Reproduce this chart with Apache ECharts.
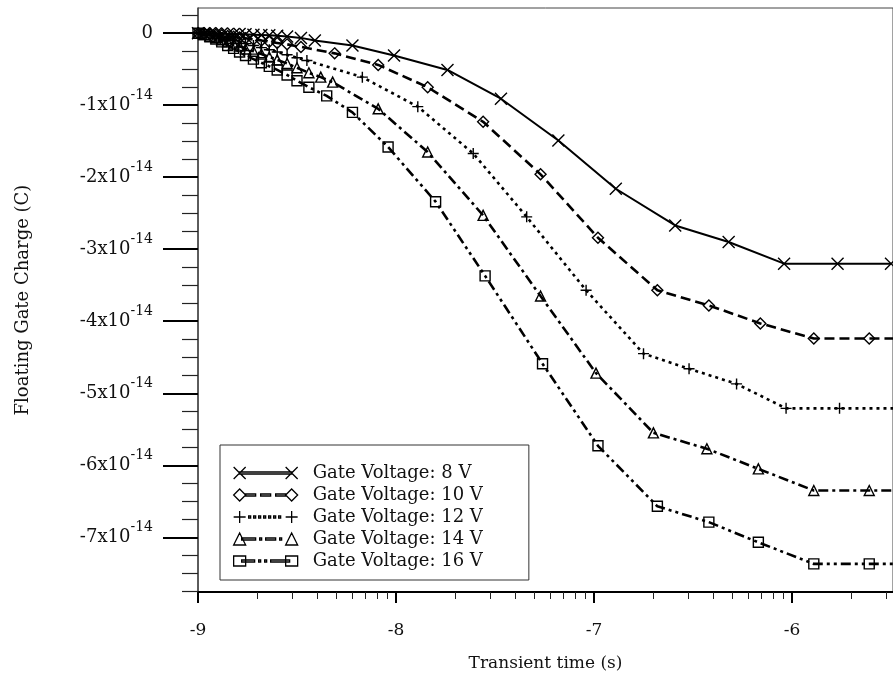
<!DOCTYPE html>
<html>
<head>
<meta charset="utf-8">
<script src="https://cdn.jsdelivr.net/npm/echarts@6/dist/echarts.min.js"></script>
<style>
  html, body { margin: 0; padding: 0; background: #fff; }
  #chart { width: 893px; height: 678px; }
</style>
</head>
<body>
<div id="chart"></div>
<script>
// x = log10(time in s), y = charge in units of 1e-14 C
var names = ['Gate Voltage: 8 V', 'Gate Voltage: 10 V', 'Gate Voltage: 12 V', 'Gate Voltage: 14 V', 'Gate Voltage: 16 V'];

var x8 = [-9, -8.97, -8.94, -8.91, -8.88, -8.85, -8.82, -8.79, -8.76, -8.72, -8.68, -8.64, -8.60, -8.55, -8.48, -8.41, -8.22, -8.01, -7.74, -7.47, -7.18, -6.89, -6.59, -6.32, -6.04, -5.77, -5.50];
var y8 = [0, 0, 0, -0.005, -0.005, -0.01, -0.01, -0.01, -0.015, -0.02, -0.025, -0.03, -0.035, -0.045, -0.065, -0.10, -0.17, -0.31, -0.51, -0.91, -1.49, -2.16, -2.67, -2.90, -3.20, -3.20, -3.20];

var x10 = [-9, -8.97, -8.94, -8.91, -8.88, -8.85, -8.82, -8.79, -8.76, -8.72, -8.68, -8.64, -8.60, -8.55, -8.48, -8.31, -8.09, -7.84, -7.56, -7.27, -6.98, -6.68, -6.42, -6.16, -5.89, -5.61, -5.33];
var y10 = [0, -0.005, -0.015, -0.02, -0.03, -0.04, -0.05, -0.06, -0.07, -0.085, -0.10, -0.12, -0.135, -0.155, -0.19, -0.28, -0.44, -0.75, -1.23, -1.96, -2.84, -3.57, -3.78, -4.03, -4.24, -4.24, -4.24];

var x12 = [-9, -8.97, -8.94, -8.91, -8.88, -8.85, -8.82, -8.79, -8.76, -8.72, -8.68, -8.64, -8.60, -8.55, -8.50, -8.45, -8.17, -7.89, -7.61, -7.34, -7.04, -6.75, -6.52, -6.28, -6.03, -5.76, -5.33];
var y12 = [0, -0.015, -0.03, -0.04, -0.06, -0.08, -0.10, -0.12, -0.145, -0.17, -0.20, -0.23, -0.26, -0.30, -0.34, -0.38, -0.61, -1.02, -1.67, -2.55, -3.57, -4.45, -4.66, -4.87, -5.21, -5.21, -5.21];

var x14 = [-9, -8.97, -8.94, -8.91, -8.88, -8.85, -8.82, -8.79, -8.76, -8.72, -8.68, -8.64, -8.60, -8.55, -8.50, -8.44, -8.38, -8.32, -8.09, -7.84, -7.56, -7.27, -6.99, -6.70, -6.43, -6.17, -5.89, -5.61, -5.33];
var y14 = [0, -0.02, -0.04, -0.06, -0.09, -0.12, -0.15, -0.18, -0.22, -0.25, -0.29, -0.33, -0.37, -0.42, -0.48, -0.55, -0.61, -0.68, -1.05, -1.65, -2.53, -3.65, -4.72, -5.55, -5.77, -6.05, -6.35, -6.35, -6.35];

var x16 = [-9, -8.97, -8.94, -8.91, -8.88, -8.85, -8.82, -8.79, -8.76, -8.72, -8.68, -8.64, -8.60, -8.55, -8.50, -8.44, -8.35, -8.22, -8.04, -7.80, -7.55, -7.26, -6.98, -6.68, -6.42, -6.17, -5.89, -5.61, -5.33];
var y16 = [0, -0.02, -0.05, -0.08, -0.12, -0.17, -0.21, -0.26, -0.31, -0.36, -0.41, -0.46, -0.51, -0.58, -0.66, -0.75, -0.87, -1.10, -1.58, -2.34, -3.37, -4.59, -5.73, -6.57, -6.79, -7.07, -7.37, -7.37, -7.37];

var xMajorTicks = [-9, -8, -7, -6];
var yMajorTicks = [0, -1, -2, -3, -4, -5, -6, -7];

(function () {
    var FONT = 'DejaVu Serif';
    var xMin = -9, xMax = -5.49, yMin = -7.76, yMax = 0.35;

    // log-style minor ticks inside each decade
    var xMinorTicks = [];
    xMajorTicks.forEach(function (d) {
        for (var k = 2; k <= 9; k++) {
            var v = d + Math.log10(k);
            if (v <= xMax) xMinorTicks.push(v);
        }
    });
    var yMinorTicks = [];
    for (var q = 0.25; q > yMin; q -= 0.25) {
        if (Math.abs(q - Math.round(q)) > 1e-6) yMinorTicks.push(q);
    }

    function pairs(xs, ys) {
        return xs.map(function (x, i) { return [x, ys[i]]; });
    }

    var SYM_X = 'path://M0,0L10,10M0,10L10,0';
    var SYM_PLUS = 'path://M5,0L5,10M0,5L10,5';

    // legend icons: marker at both ends of a short line sample (64 x 12 box)
    var ICONS = [
        'path://M0,0L12,12M0,12L12,0M52,0L64,12M52,12L64,0M6,5H58V7H6Z',
        'path://M6,0L12,6L6,12L0,6ZM58,0L64,6L58,12L52,6ZM12,5H22V7H12ZM27,5H37V7H27ZM42,5H52V7H42Z',
        'path://M6,0V12M0,6H12M58,0V12M52,6H64M15,5H17V7H15ZM20,5H22V7H20ZM25,5H27V7H25ZM30,5H32V7H30ZM35,5H37V7H35ZM40,5H42V7H40ZM45,5H47V7H45Z',
        'path://M6,0L12,12L0,12ZM58,0L64,12L52,12ZM8,5H22V7H8ZM26,5H28V7H26ZM32,5H42V7H32ZM46,5H48V7H46Z',
        'path://M0,1H12V11H0ZM52,1H64V11H52ZM8,5H21V7H8ZM25,5H27V7H25ZM31,5H33V7H31ZM37,5H56V7H37Z'
    ];

    var styles = [
        { x: x8, y: y8, symbol: SYM_X, size: 12, type: 'solid', width: 2 },
        { x: x10, y: y10, symbol: 'diamond', size: 11, type: [10, 5], width: 2.6 },
        { x: x12, y: y12, symbol: SYM_PLUS, size: 11, type: [3, 4], width: 2.6 },
        { x: x14, y: y14, symbol: 'triangle', size: 10, type: [10, 4, 3, 4], width: 2.6 },
        { x: x16, y: y16, symbol: 'rect', size: 10, type: [10, 4, 3, 4, 3, 4], width: 2.6 }
    ];

    var series = styles.map(function (s, i) {
        return {
            name: names[i],
            type: 'line',
            data: pairs(s.x, s.y),
            symbol: s.symbol,
            symbolSize: s.size,
            showAllSymbol: true,
            clip: true,
            itemStyle: { color: 'rgba(0,0,0,0)', borderColor: '#000', borderWidth: 1.4 },
            lineStyle: { color: '#000', width: s.width, type: s.type },
            emphasis: { disabled: true }
        };
    });

    var option = {
        animation: false,
        backgroundColor: '#fff',
        grid: { left: 198, top: 8, right: -1, bottom: 86, show: true, borderColor: '#444', borderWidth: 1 },
        legend: {
            orient: 'vertical',
            left: 220,
            top: 445,
            padding: [17, 46, 8, 13],
            itemGap: 0,
            itemWidth: 64,
            itemHeight: 12,
            borderColor: '#333',
            borderWidth: 1,
            backgroundColor: '#fff',
            itemStyle: { color: 'rgba(0,0,0,0)', borderColor: '#000', borderWidth: 1.3 },
            data: names.map(function (n, i) { return { name: n, icon: ICONS[i] }; }),
            textStyle: { fontFamily: FONT, fontSize: 18, color: '#111', lineHeight: 22, padding: [0, 0, 0, 10] }
        },
        xAxis: [{
            type: 'value', min: xMin, max: xMax,
            name: 'Transient time (s)', nameLocation: 'middle', nameGap: 63,
            nameTextStyle: { fontFamily: FONT, fontSize: 17, color: '#111' },
            axisLine: { onZero: false, lineStyle: { color: '#000', width: 2 } },
            axisTick: { customValues: xMajorTicks, length: 11, lineStyle: { color: '#000', width: 2 } },
            axisLabel: { customValues: xMajorTicks, margin: 30, fontFamily: FONT, fontSize: 17, color: '#111' },
            splitLine: { show: false }
        }, {
            type: 'value', min: xMin, max: xMax, position: 'bottom',
            axisLine: { show: false, onZero: false },
            axisTick: { customValues: xMinorTicks, length: 7, lineStyle: { color: '#222', width: 1 } },
            axisLabel: { show: false },
            splitLine: { show: false }
        }],
        yAxis: [{
            type: 'value', min: yMin, max: yMax,
            name: 'Floating Gate Charge (C)', nameLocation: 'middle', nameGap: 166, nameRotate: 90,
            nameTextStyle: { fontFamily: FONT, fontSize: 18, color: '#111', padding: [0, 0, 0, 0] },
            axisLine: { show: true, onZero: false, lineStyle: { color: '#444', width: 1.5 } },
            axisTick: { customValues: yMajorTicks, length: 35, lineStyle: { color: '#000', width: 2 } },
            axisLabel: {
                customValues: yMajorTicks, margin: 45,
                formatter: function (v) {
                    if (v === 0) return '{b|0}';
                    return '{b|' + v + 'x10}{s|-14}';
                },
                rich: {
                    b: { fontFamily: FONT, fontSize: 18, color: '#111', lineHeight: 22 },
                    s: { fontFamily: FONT, fontSize: 14, color: '#111', lineHeight: 15, padding: [0, 0, 20, 0] }
                }
            },
            splitLine: { show: false }
        }, {
            type: 'value', min: yMin, max: yMax, position: 'left',
            axisLine: { show: false, onZero: false },
            axisTick: { customValues: yMinorTicks, length: 16, lineStyle: { color: '#222', width: 1.2 } },
            axisLabel: { show: false },
            splitLine: { show: false }
        }],
        series: series
    };

    var myChart = echarts.init(document.getElementById('chart'));
    myChart.setOption(option);
})();
</script>
</body>
</html>
